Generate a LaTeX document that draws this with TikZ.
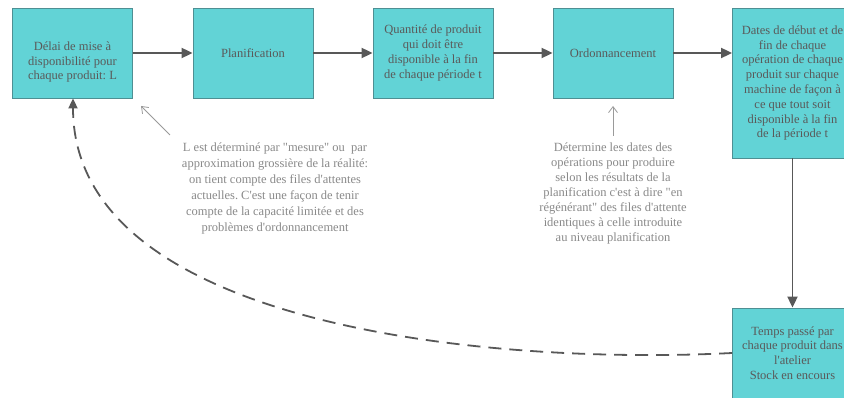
\documentclass[tikz,border=0pt]{standalone}
\usepackage{fontspec}
\setmainfont{Liberation Serif}[Ligatures=TeXOff]
\usetikzlibrary{arrows.meta}
\frenchspacing
\definecolor{boxfill}{HTML}{62D3D6}
\definecolor{boxline}{HTML}{4E8F93}
\definecolor{arrowgrey}{HTML}{585858}
\definecolor{boxtxt}{HTML}{5A5A5A}
\definecolor{notetxt}{HTML}{8A8A8A}
\definecolor{notearrow}{HTML}{9A9A9A}
\tikzset{
  box/.style={draw=boxline, line width=0.8pt, fill=boxfill, minimum width=120pt, minimum height=90pt, inner sep=0pt},
  boxtext/.style={text=boxtxt, align=center, font=\fontsize{12.5}{14.8}\selectfont, inner sep=0pt},
  notetext/.style={text=notetxt, align=center, inner sep=0pt},
  flow/.style={draw=arrowgrey, line width=1.8pt, -{Triangle[length=11pt,width=10pt]}},
  feedback/.style={draw=arrowgrey, line width=1.8pt, dash pattern=on 13pt off 8pt, -{Triangle[length=10pt,width=9pt]}},
  noteptr/.style={draw=notearrow, line width=0.8pt, -{Straight Barb[length=6pt,width=9pt]}}
}
\begin{document}
\begin{tikzpicture}[x=1pt,y=-1pt]
\clip (0,0) rectangle (844,398);
\fill[white] (0,0) rectangle (844,398);

\node[box] (b1) at (72.5,53) {};
\node[boxtext] (t1) at (72.5,62) {Délai de mise à\\disponibilité pour\\chaque produit: L};
\node[box,boxtext] (b2) at (253,53) {Planification};
\node[box,boxtext] (b3) at (433,53) {Quantité de produit\\qui doit être\\disponible à la fin\\de chaque période t};
\node[box,boxtext] (b4) at (613,53) {Ordonnancement};
\node[box,boxtext,minimum height=150pt] (b5) at (792.5,83) {Dates de début et de\\fin de chaque\\opération de chaque\\produit sur chaque\\machine de façon à\\ce que tout soit\\disponible à la fin\\de la période t};
\node[box,boxtext] (b6) at (792.5,353) {Temps passé par\\chaque produit dans\\l'atelier\\Stock en encours};

\draw[flow] (b1) -- (b2);
\draw[flow] (b2) -- (b3);
\draw[flow] (b3) -- (b4);
\draw[flow] (b4.east) -- (b5.west |- b4.east);
\draw[flow] (b5) -- (b6);

\draw[feedback] (b6.west) .. controls (500,365) and (73,330) .. (b1.south -| 73,0);

\node[notetext, font=\fontsize{12.5}{16}\selectfont] (n1) at (275,188) {L est déterminé par "mesure" ou\ \ par\\approximation grossière de la réalité:\\on tient compte des files d'attentes\\actuelles. C'est une façon de tenir\\compte de la capacité limitée et des\\problèmes d'ordonnancement};
\node[notetext, font=\fontsize{12.5}{15}\selectfont] (n2) at (613,193) {Détermine les dates des\\opérations pour produire\\selon les résultats de la\\planification c'est à dire "en\\régénérant" des files d'attente\\identiques à celle introduite\\au niveau planification};

\coordinate (p1s) at (170,135);
\coordinate (p1e) at (141,106);
\coordinate (p2s) at (613,136);
\coordinate (p2e) at (613,106);
\draw[noteptr] (p1s) -- (p1e);
\draw[noteptr] (p2s) -- (p2e);
\end{tikzpicture}
\end{document}
